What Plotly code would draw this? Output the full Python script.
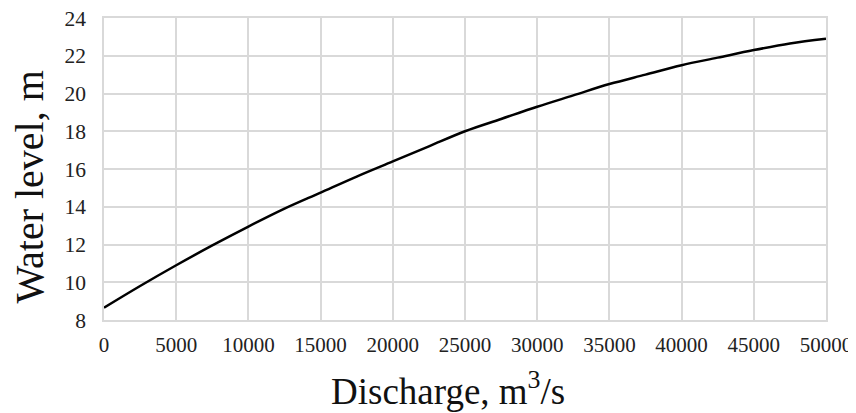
import plotly.graph_objects as go

discharge = [0, 2500, 5000, 7500, 10000, 12500, 15000, 17500, 20000, 22500, 25000,
             27500, 30000, 32500, 35000, 37500, 40000, 42500, 45000, 47500, 50000]
water_level = [8.65, 9.8, 10.9, 11.95, 12.95, 13.9, 14.75, 15.6, 16.4, 17.2, 18.0,
               18.65, 19.3, 19.9, 20.5, 21.0, 21.5, 21.9, 22.3, 22.65, 22.9]
x_ticks = list(range(0, 50001, 5000))
y_ticks = list(range(8, 25, 2))

FONT = "Liberation Serif, Times New Roman, serif"
GRID = "#d9d9d9"

fig = go.Figure()
fig.add_trace(go.Scatter(x=discharge, y=water_level, mode="lines",
                         line=dict(color="black", width=2.5, shape="spline"),
                         showlegend=False, hoverinfo="x+y"))

# page has an 8px body margin, so the figure is 848x405 placed at (8, 8)
fig.update_layout(
    width=848, height=405,
    margin=dict(l=96, r=30, t=10, b=93, autoexpand=False),
    paper_bgcolor="white", plot_bgcolor="white",
    font=dict(family=FONT, color="#222222", size=21),
    xaxis=dict(range=[0, 50000], tickvals=x_ticks, ticktext=[str(v) for v in x_ticks],
               showgrid=True, gridcolor=GRID, gridwidth=1.5, automargin=False,
               showline=True, linecolor=GRID, linewidth=1.5, mirror=True,
               zeroline=False, ticks="", ticklabelstandoff=5,
               ticklabeloverflow="allow",
               tickfont=dict(family=FONT, size=21, color="#222222")),
    yaxis=dict(range=[8, 24], tickvals=y_ticks, automargin=False,
               showgrid=True, gridcolor=GRID, gridwidth=1.5,
               showline=True, linecolor=GRID, linewidth=1.5, mirror=True,
               zeroline=False, ticks="", ticklabelstandoff=12,
               ticklabeloverflow="allow",
               tickfont=dict(family=FONT, size=21.5, color="#222222")),
    annotations=[
        dict(text="Discharge, m<sup>3</sup>/s", xref="paper", yref="paper",
             x=0.476, y=-0.228, xanchor="center", yanchor="middle", showarrow=False,
             font=dict(family=FONT, size=37, color="#111111")),
        dict(text="Water level, m", xref="paper", yref="paper",
             x=-0.1025, y=0.442, xanchor="center", yanchor="middle", showarrow=False,
             textangle=-90, font=dict(family=FONT, size=40, color="#111111")),
    ],
)

fig.write_html("out.html")
